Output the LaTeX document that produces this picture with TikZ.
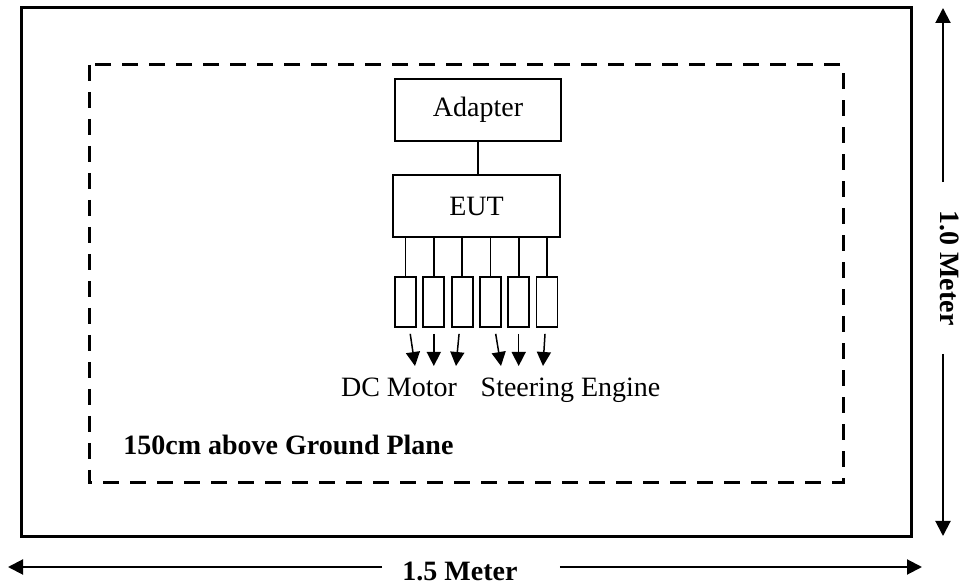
\documentclass[tikz,border=0pt]{standalone}
\usepackage{fontspec}
\setmainfont{Liberation Serif}
\usetikzlibrary{arrows.meta,positioning,calc}
\definecolor{lineclr}{RGB}{0,0,0}
\tikzset{
  boxnd/.style={rectangle,draw=lineclr,line width=0.9pt,
    minimum width=83pt,minimum height=31pt,inner sep=0pt,
    font=\fontsize{14}{16}\selectfont},
  motnd/.style={rectangle,draw=lineclr,line width=0.9pt,
    minimum width=10.5pt,minimum height=25pt,inner sep=0pt},
  wire/.style={line width=0.9pt,color=lineclr},
  arr/.style={-{Triangle[width=7pt,length=7pt]},line width=0.75pt,
    color=lineclr,shorten <=3pt},
  dimarr/.style={-{Triangle[width=7.5pt,length=7.5pt]},line width=1pt,
    color=lineclr},
  lbl/.style={font=\fontsize{14}{16}\selectfont},
  blbl/.style={font=\fontsize{14}{16}\selectfont\bfseries},
}

\begin{document}
\begin{tikzpicture}[x=0.5pt,y=-0.5pt]
  \useasboundingbox (0,0) rectangle (970,587);

  % table and ground plane outline
  \draw[line width=1.5pt] (21,8) rectangle (911,537);
  \draw[line width=1.5pt,dash pattern=on 8pt off 5.5pt] (89,65) rectangle (843,483);

  \node[boxnd] (adp) at (478,110) {Adapter};
  \node[boxnd,minimum width=83.5pt] (eut) at (476.5,206) {EUT};
  \draw[wire] (adp.south) -- (adp.south |- eut.north);

  \foreach \i/\x in {1/405.5,2/433.8,3/462.1,4/490.4,5/518.7,6/547}{
    \node[motnd] (m\i) at (\x,302) {};
    \draw[wire] (m\i.north) -- (m\i.north |- eut.south);
  }
  \foreach \i/\x in {1/415,2/433.8,3/456,4/501,5/518.7,6/543}{
    \coordinate (t\i) at (\x,366);
    \draw[arr] (m\i) -- (t\i);
  }

  \node[lbl,anchor=base] (dcm) at (399,397) {DC Motor};
  \node[lbl,anchor=base] (ste) at (570.5,397) {Steering Engine};
  \node[blbl,anchor=base west,inner sep=0pt] (gnd) at (123,455)
    {150cm above Ground Plane};

  % dimensions
  \coordinate (vtop) at (943,8);
  \coordinate (vbot) at (943,536);
  \node[blbl,rotate=-90,inner xsep=14pt] (vlab) at (950,268) {1.0 Meter};
  \draw[dimarr] (vlab.west -| vtop) -- (vtop);
  \draw[dimarr] (vlab.east -| vbot) -- (vbot);

  \coordinate (hlft) at (8,567);
  \coordinate (hrgt) at (922,567);
  \node[blbl,inner xsep=10pt] (hlab) at (460,571) {1.5 Meter};
  \draw[dimarr] (hlab.west |- hlft) -- (hlft);
  \draw[dimarr] ([xshift=11pt]hlab.east |- hrgt) -- (hrgt);
\end{tikzpicture}
\end{document}
